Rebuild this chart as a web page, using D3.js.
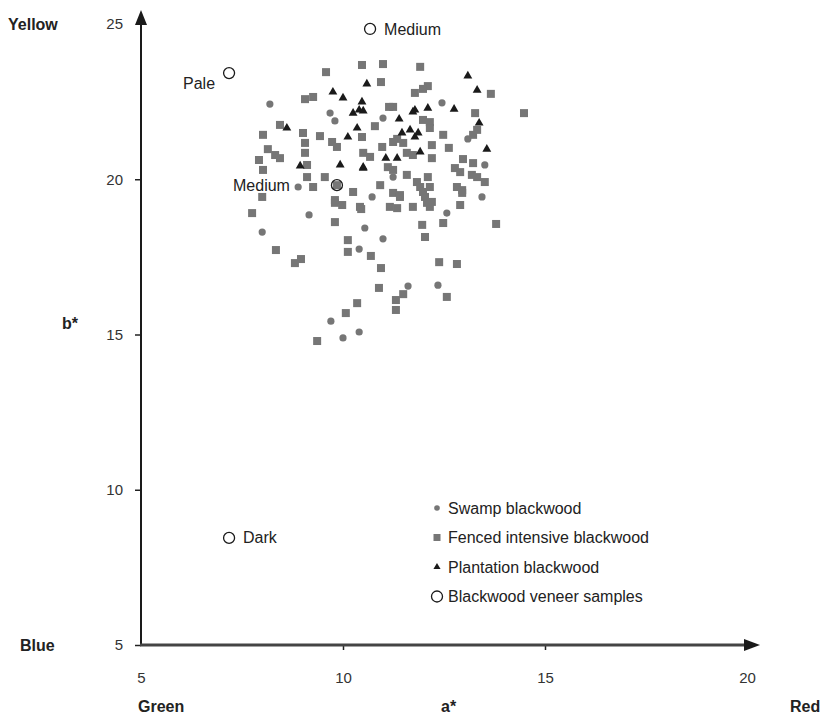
<!DOCTYPE html>
<html>
<head>
<meta charset="utf-8">
<script src="https://cdn.jsdelivr.net/npm/d3@7"></script>
<style>
  html, body { margin: 0; padding: 0; background: #fff; overflow: hidden; }
  svg { display: block; font-family: "Liberation Sans", Arial, sans-serif; }
  .tick text { font-size: 15px; fill: #333; }
  .tick line { stroke: #222; stroke-width: 1.5; }
  .side-label { font-size: 16px; font-weight: bold; fill: #222; }
  .note { font-size: 16px; fill: #222; }
  .legend-label { font-size: 16px; fill: #222; }
</style>
</head>
<body>
<div id="chart"></div>
<script>
// ── Data (a*, b*) ────────────────────────────────────────────────────────
const swamp = [
  [12.45, 22.46], [8.19, 22.42], [9.68, 22.13], [9.80, 21.88], [8.89, 19.75],
  [10.99, 21.97], [13.09, 21.30], [13.51, 20.46], [11.24, 20.07], [10.72, 19.43],
  [13.44, 19.43], [9.16, 18.85], [8.00, 18.30], [10.40, 17.75], [10.54, 18.43],
  [10.99, 18.08], [11.61, 16.56], [9.70, 15.43], [10.00, 14.89], [10.40, 15.08],
  [12.57, 18.91], [12.35, 16.59]
];

const fenced = [
  [9.58, 23.45], [10.47, 23.68], [10.99, 23.71], [11.91, 23.62], [10.94, 23.13],
  [13.66, 22.75], [12.10, 23.00], [11.98, 22.91], [11.78, 22.78], [11.24, 22.33],
  [11.14, 22.33], [9.06, 22.58], [9.26, 22.65], [8.44, 21.75], [8.02, 21.43],
  [9.01, 21.49], [9.43, 21.39], [9.06, 21.17], [8.14, 20.97], [8.32, 20.78],
  [8.44, 20.68], [7.92, 20.62], [9.06, 20.85], [9.11, 20.46], [8.02, 20.30],
  [9.11, 20.07], [9.26, 19.75], [9.55, 20.07], [10.25, 19.59], [9.73, 21.20],
  [9.85, 21.04], [10.47, 21.36], [8.00, 19.43], [9.80, 19.33], [10.42, 19.11],
  [13.27, 22.13], [11.98, 21.91], [12.15, 21.84], [10.79, 21.71], [13.32, 21.59],
  [13.22, 21.43], [12.48, 21.43], [11.34, 21.30], [12.15, 21.65], [11.24, 21.20],
  [11.49, 21.17], [10.97, 21.04], [12.20, 21.10], [12.62, 21.01], [11.58, 20.85],
  [11.73, 20.78], [10.50, 20.85], [10.67, 20.72], [12.20, 20.68], [12.97, 20.65],
  [13.22, 20.52], [11.11, 20.39], [11.24, 20.30], [12.77, 20.36], [12.90, 20.23],
  [13.19, 20.14], [13.32, 20.07], [11.58, 20.14], [12.10, 20.07], [13.51, 19.91],
  [10.92, 19.81], [11.83, 19.91], [11.91, 19.75], [12.15, 19.75], [12.82, 19.75],
  [12.95, 19.65], [11.24, 19.56], [11.41, 19.43], [12.03, 19.43], [12.20, 19.27],
  [12.90, 19.17], [11.73, 19.11], [7.75, 18.91], [8.34, 17.72], [8.81, 17.30],
  [8.96, 17.43], [9.80, 19.24], [9.98, 19.17], [9.80, 18.62], [10.12, 18.04],
  [10.12, 17.66], [10.45, 19.04], [10.69, 17.53], [10.94, 17.14], [11.16, 19.11],
  [11.34, 19.07], [11.41, 19.49], [10.89, 16.50], [11.49, 16.30], [11.31, 16.11],
  [11.31, 15.79], [10.35, 16.01], [10.07, 15.69], [9.36, 14.79], [11.96, 18.53],
  [12.03, 18.14], [12.08, 19.24], [12.15, 19.11], [11.98, 19.59], [12.48, 18.59],
  [12.38, 17.33], [12.82, 17.27], [12.57, 16.21], [12.95, 19.56], [13.79, 18.56],
  [14.48, 22.13], [9.85, 19.81]
];

const plantation = [
  [9.75, 22.81], [10.00, 22.62], [10.47, 22.49], [10.25, 22.13], [10.40, 22.23],
  [8.61, 21.65], [10.12, 21.36], [10.35, 21.65], [8.94, 20.43], [9.93, 20.46],
  [10.50, 20.39], [13.09, 23.33], [10.59, 23.07], [13.32, 22.87], [10.50, 22.20],
  [11.78, 22.23], [11.73, 22.17], [12.10, 22.29], [12.75, 22.26], [11.39, 21.94],
  [13.37, 21.81], [11.46, 21.49], [11.66, 21.59], [11.86, 21.49], [11.78, 21.36],
  [13.56, 20.97], [11.91, 20.88], [11.06, 20.68], [11.34, 20.68], [10.50, 20.36]
];

const veneerNames = ["Pale", "Medium", "Medium", "Dark"];
const veneerA = [7.18, 10.67, 9.85, 7.18];
const veneerB = [23.42, 24.84, 19.81, 8.45];

const legendLabels = [
  "Swamp blackwood",
  "Fenced intensive blackwood",
  "Plantation blackwood",
  "Blackwood veneer samples"
];

const xTicks = [5, 10, 15, 20];
const yTicks = [5, 10, 15, 20, 25];

// ── SVG ──────────────────────────────────────────────────────────────────
const W = 837, H = 719;
const svg = d3.select("#chart").append("svg")
  .attr("width", W).attr("height", H);

const x = d3.scaleLinear().domain([5, 20]).range([141, 747]);
const y = d3.scaleLinear().domain([5, 25]).range([645, 24]);

const grey = "#767676";
const ink = "#1a1a1a";

// ── Axes ─────────────────────────────────────────────────────────────────
const xAxis = svg.append("g")
  .attr("transform", `translate(0,${y(5)})`)
  .call(d3.axisBottom(x).tickValues(xTicks).tickSize(5).tickPadding(22)
    .tickFormat(d3.format("d")));
xAxis.select(".domain").remove();
xAxis.selectAll(".tick").filter(d => d === 5 || d === 20).select("line").remove();

const yAxis = svg.append("g")
  .attr("transform", `translate(${x(5)},0)`)
  .call(d3.axisLeft(y).tickValues(yTicks).tickSize(6).tickPadding(12)
    .tickFormat(d3.format("d")));
yAxis.select(".domain").remove();
yAxis.selectAll(".tick").filter(d => d === 25).select("line").remove();

// axis lines with arrowheads
svg.append("line")
  .attr("x1", x(5)).attr("y1", y(5) + 1)
  .attr("x2", x(5)).attr("y2", 22)
  .attr("stroke", ink).attr("stroke-width", 2);
svg.append("path")
  .attr("d", `M${x(5)},10 L${x(5) - 6},25 L${x(5) + 6},25 Z`)
  .attr("fill", ink);

svg.append("line")
  .attr("x1", x(5) - 1).attr("y1", y(5))
  .attr("x2", 746).attr("y2", y(5))
  .attr("stroke", "#444").attr("stroke-width", 3);
svg.append("path")
  .attr("d", `M760,${y(5)} L744,${y(5) - 6} L744,${y(5) + 6} Z`)
  .attr("fill", ink);

// ── Side labels ──────────────────────────────────────────────────────────
const sideLabels = [
  { t: "Yellow", x: 8, y: 24 },
  { t: "b*", x: 62, y: 323 },
  { t: "Blue", x: 20, y: 645 },
  { t: "Green", x: 138, y: 706 },
  { t: "a*", x: 441, y: 706 },
  { t: "Red", x: 790, y: 706 }
];
svg.selectAll(".side-label").data(sideLabels).join("text")
  .attr("class", "side-label")
  .attr("x", d => d.x).attr("y", d => d.y)
  .attr("dy", "0.35em")
  .text(d => d.t);

// ── Points ───────────────────────────────────────────────────────────────
const g = svg.append("g");

g.selectAll(".swamp").data(swamp).join("circle")
  .attr("class", "swamp")
  .attr("cx", d => x(d[0])).attr("cy", d => y(d[1]))
  .attr("r", 3.6).attr("fill", grey);

g.selectAll(".fenced").data(fenced).join("rect")
  .attr("class", "fenced")
  .attr("x", d => x(d[0]) - 4).attr("y", d => y(d[1]) - 4)
  .attr("width", 8).attr("height", 8).attr("fill", grey);

const tri = d3.symbol().type(d3.symbolTriangle).size(34);
g.selectAll(".plant").data(plantation).join("path")
  .attr("class", "plant")
  .attr("transform", d => `translate(${x(d[0])},${y(d[1])})`)
  .attr("d", tri).attr("fill", ink);

// veneer samples
const noteDx = [-14, 14, -47, 14];
const noteDy = [10, 0, 0, 0];
const veneer = veneerNames.map((n, i) => ({
  n, a: veneerA[i], b: veneerB[i], dx: noteDx[i], dy: noteDy[i]
}));
g.selectAll(".veneer").data(veneer).join("circle")
  .attr("class", "veneer")
  .attr("cx", d => x(d.a)).attr("cy", d => y(d.b))
  .attr("r", 5.5).attr("fill", "none")
  .attr("stroke", ink).attr("stroke-width", 1.3);

g.selectAll(".note").data(veneer).join("text")
  .attr("class", "note")
  .attr("x", d => x(d.a) + d.dx)
  .attr("y", d => y(d.b) + d.dy)
  .attr("dy", "0.35em")
  .attr("text-anchor", d => d.dx < 0 ? "end" : "start")
  .text(d => d.n);

// ── Legend ───────────────────────────────────────────────────────────────
const legend = svg.append("g").attr("transform", "translate(437,508)");
const rowH = 29.5;
legendLabels.forEach((lab, i) => {
  const row = legend.append("g").attr("transform", `translate(0,${i * rowH})`);
  if (i === 0) row.append("circle").attr("r", 2.8).attr("fill", grey);
  if (i === 1) row.append("rect").attr("x", -3.5).attr("y", -3.5)
    .attr("width", 7).attr("height", 7).attr("fill", grey);
  if (i === 2) row.append("path").attr("d", d3.symbol().type(d3.symbolTriangle).size(22))
    .attr("fill", ink);
  if (i === 3) row.append("circle").attr("r", 5.5).attr("fill", "none")
    .attr("stroke", ink).attr("stroke-width", 1.3);
  row.append("text").attr("class", "legend-label")
    .attr("x", 11).attr("dy", "0.35em").text(lab);
});
</script>
</body>
</html>
